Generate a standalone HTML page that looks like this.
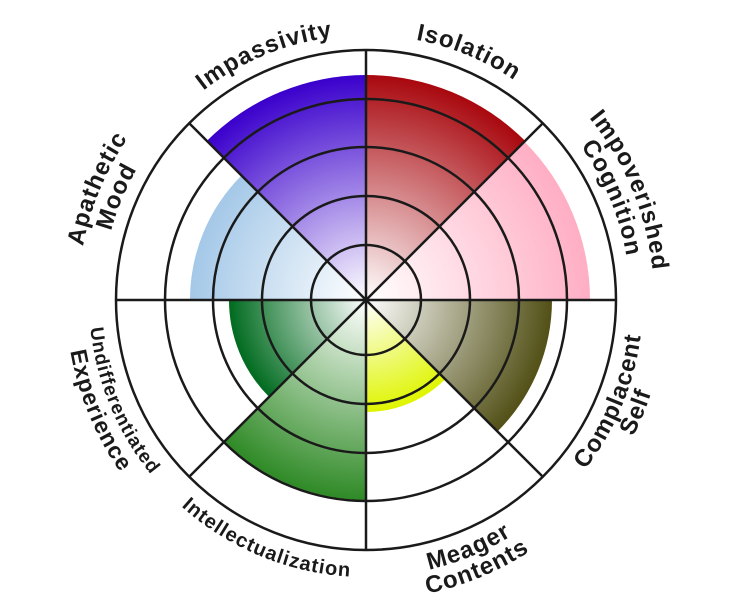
<!DOCTYPE html>
<html><head><meta charset="utf-8"><style>
html,body{margin:0;padding:0;background:#fff;}
svg{display:block;}
text{font-family:"Liberation Sans",sans-serif;font-weight:bold;fill:#1a1a1a;letter-spacing:1px;}
</style></head><body>
<svg width="732" height="600" viewBox="0 0 732 600" xmlns="http://www.w3.org/2000/svg">
<defs>
<radialGradient id="g1" gradientUnits="userSpaceOnUse" cx="366" cy="300" r="225"><stop offset="0" stop-color="#fff"/><stop offset="1" stop-color="#3a00cc"/></radialGradient>
<radialGradient id="g2" gradientUnits="userSpaceOnUse" cx="366" cy="300" r="225"><stop offset="0" stop-color="#fff"/><stop offset="1" stop-color="#a8080e"/></radialGradient>
<radialGradient id="g3" gradientUnits="userSpaceOnUse" cx="366" cy="300" r="224"><stop offset="0" stop-color="#fff"/><stop offset="1" stop-color="#ffaec4"/></radialGradient>
<radialGradient id="g4" gradientUnits="userSpaceOnUse" cx="366" cy="300" r="186"><stop offset="0" stop-color="#fff"/><stop offset="1" stop-color="#525016"/></radialGradient>
<radialGradient id="g5" gradientUnits="userSpaceOnUse" cx="366" cy="300" r="112"><stop offset="0" stop-color="#fff"/><stop offset="1" stop-color="#dff500"/></radialGradient>
<radialGradient id="g6" gradientUnits="userSpaceOnUse" cx="366" cy="300" r="200"><stop offset="0" stop-color="#fff"/><stop offset="1" stop-color="#2f8a26"/></radialGradient>
<radialGradient id="g7" gradientUnits="userSpaceOnUse" cx="366" cy="300" r="137"><stop offset="0" stop-color="#fff"/><stop offset="1" stop-color="#006b1f"/></radialGradient>
<radialGradient id="g8" gradientUnits="userSpaceOnUse" cx="366" cy="300" r="176"><stop offset="0" stop-color="#fff"/><stop offset="1" stop-color="#a4c8e8"/></radialGradient>
<path id="p1" d="M130.9,177.6 A265,265 0 0 1 445.7,47.3"/>
<path id="p2" d="M286.3,47.3 A265,265 0 0 1 601.1,177.6"/>
<path id="p3a" d="M499,44.5 A288,288 0 0 1 640.7,386.6"/>
<path id="p3b" d="M487.9,65.8 A264,264 0 0 1 617.8,379.4"/>
<path id="p4a" d="M91.3,386.6 A288,288 0 0 1 233,44.5"/>
<path id="p4b" d="M114.2,379.4 A264,264 0 0 1 244.1,65.8"/>
<path id="p5a" d="M493.9,545.7 A277,277 0 0 0 630.2,216.7"/>
<path id="p5b" d="M504.5,566.1 A300,300 0 0 0 652.1,209.8"/>
<path id="p6a" d="M282.7,564.2 A277,277 0 0 0 611.7,427.9"/>
<path id="p6b" d="M275.8,586.1 A300,300 0 0 0 632.1,438.5"/>
<path id="p7" d="M120.3,427.9 A277,277 0 0 0 449.3,564.2"/>
<path id="p8a" d="M101.8,216.7 A277,277 0 0 0 238.1,545.7"/>
<path id="p8b" d="M79.9,209.8 A300,300 0 0 0 227.5,566.1"/>
</defs>
<path d="M366,300 L206.9,140.9 A225,225 0 0 1 366,75 Z" fill="url(#g1)"/>
<path d="M366,300 L366,75 A225,225 0 0 1 525.1,140.9 Z" fill="url(#g2)"/>
<path d="M366,300 L524.4,141.6 A224,224 0 0 1 590,300 Z" fill="url(#g3)"/>
<path d="M366,300 L552,300 A186,186 0 0 1 497.5,431.5 Z" fill="url(#g4)"/>
<path d="M366,300 L445.2,379.2 A112,112 0 0 1 366,412 Z" fill="url(#g5)"/>
<path d="M366,300 L366,500 A200,200 0 0 1 224.6,441.4 Z" fill="url(#g6)"/>
<path d="M366,300 L269.1,396.9 A137,137 0 0 1 229,300 Z" fill="url(#g7)"/>
<path d="M366,300 L190,300 A176,176 0 0 1 241.5,175.5 Z" fill="url(#g8)"/>
<g fill="none" stroke="#1a1a1a" stroke-width="2.5">
<circle cx="366" cy="300" r="250"/>
<circle cx="366" cy="300" r="201"/>
<circle cx="366" cy="300" r="153"/>
<circle cx="366" cy="300" r="104"/>
<circle cx="366" cy="300" r="55"/>
<line x1="116" y1="300" x2="616" y2="300"/>
<line x1="366" y1="50" x2="366" y2="550"/>
<line x1="189.2" y1="123.2" x2="542.8" y2="476.8"/>
<line x1="542.8" y1="123.2" x2="189.2" y2="476.8"/>
</g>
<text font-size="24"><textPath href="#p1" startOffset="50%" text-anchor="middle">Impassivity</textPath></text>
<text font-size="24"><textPath href="#p2" startOffset="50%" text-anchor="middle">Isolation</textPath></text>
<text font-size="24"><textPath href="#p3a" startOffset="50%" text-anchor="middle">Impoverished</textPath></text>
<text font-size="24"><textPath href="#p3b" startOffset="50%" text-anchor="middle">Cognition</textPath></text>
<text font-size="24"><textPath href="#p4a" startOffset="50%" text-anchor="middle">Apathetic</textPath></text>
<text font-size="24"><textPath href="#p4b" startOffset="50%" text-anchor="middle">Mood</textPath></text>
<text font-size="24"><textPath href="#p5a" startOffset="50%" text-anchor="middle">Complacent</textPath></text>
<text font-size="24"><textPath href="#p5b" startOffset="50%" text-anchor="middle">Self</textPath></text>
<text font-size="24"><textPath href="#p6a" startOffset="50%" text-anchor="middle">Meager</textPath></text>
<text font-size="24"><textPath href="#p6b" startOffset="50%" text-anchor="middle">Contents</textPath></text>
<text font-size="20"><textPath href="#p7" startOffset="50%" text-anchor="middle">Intellectualization</textPath></text>
<text font-size="19"><textPath href="#p8a" startOffset="50%" text-anchor="middle">Undifferentiated</textPath></text>
<text font-size="23"><textPath href="#p8b" startOffset="50%" text-anchor="middle">Experience</textPath></text>
</svg>
</body></html>
